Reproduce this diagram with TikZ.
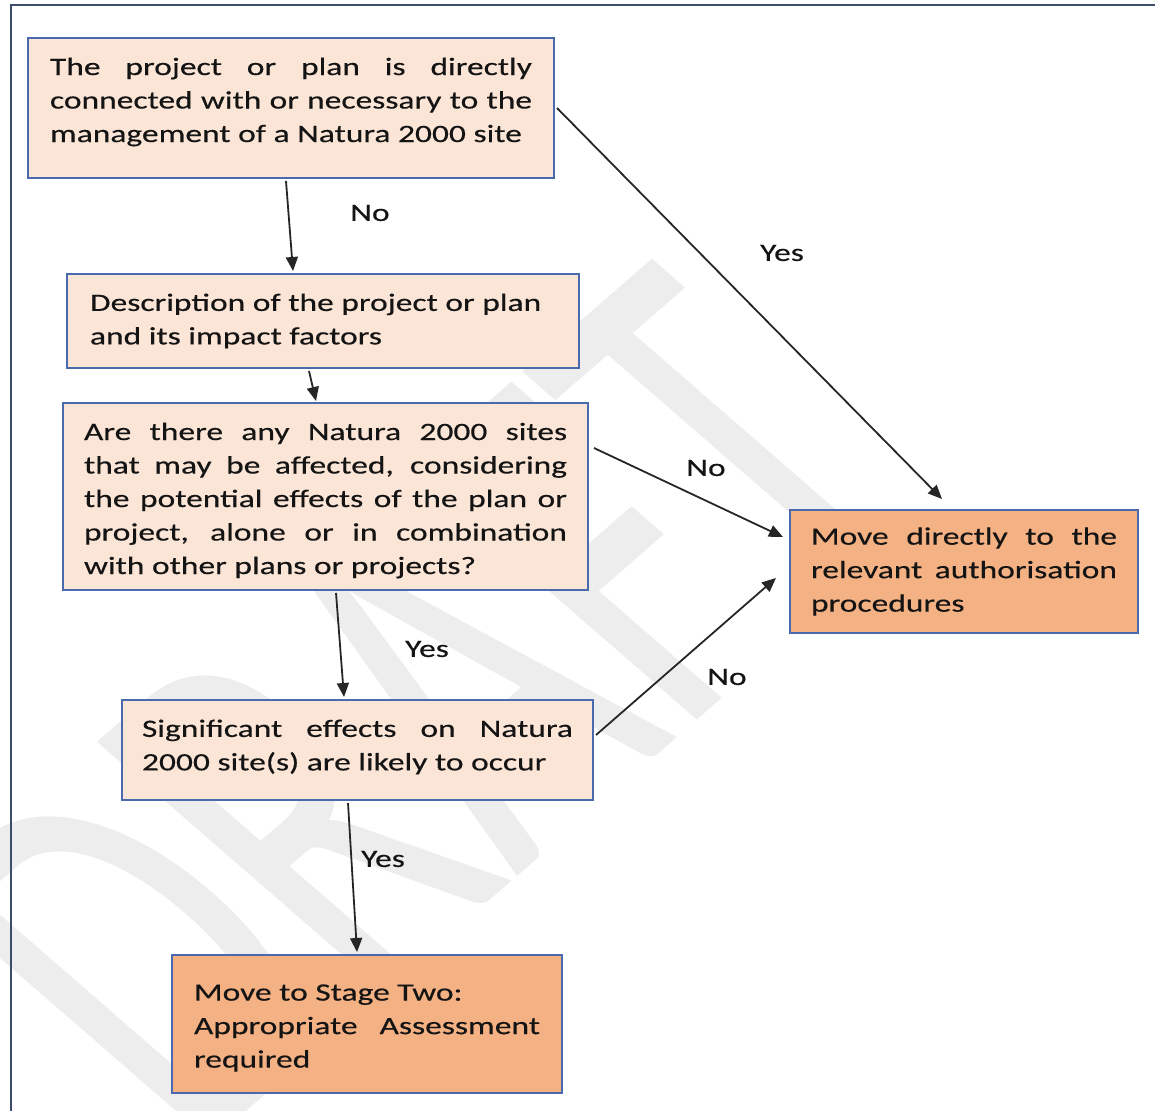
\documentclass[tikz,border=0pt]{standalone}
\usepackage{fontspec}
\setmainfont{Carlito}[FakeStretch=1.34,FakeBold=0.35]
\newfontfamily\markfont{Carlito}
\usetikzlibrary{arrows.meta,calc}
\definecolor{boxlight}{HTML}{FBE5D6}
\definecolor{boxdark}{HTML}{F4B183}
\definecolor{boxline}{HTML}{4A6AAE}
\definecolor{frameline}{HTML}{3E4C6B}
\definecolor{markgray}{HTML}{EDEDED}
\tikzset{
  flowbox/.style={draw=boxline, line width=1pt, inner xsep=0pt, inner ysep=3pt,
    align=justify, font=\fontsize{12.5}{16.75}\selectfont, text=black!92},
  lightbox/.style={flowbox, fill=boxlight},
  darkbox/.style={flowbox, fill=boxdark},
  flowarrow/.style={draw=black!85, line width=0.9pt, -{Triangle[length=7pt,width=6pt]}},
  answer/.style={font=\fontsize{12.5}{15}\selectfont, text=black!92, inner sep=0pt}
}
\begin{document}
\begin{tikzpicture}[x=0.5pt,y=-0.5pt]
\useasboundingbox (0,0) rectangle (1155,1111);
\begin{scope}
\clip (0,0) rectangle (1155,1111);
% faint diagonal watermark with tall letters
\begin{scope}[shift={(192,1159)}, xscale=1.15, rotate=45, yscale=1.6]
\node[text=markgray, transform shape, anchor=base west, inner sep=0pt] (mark) at (0,0)
  {\markfont\fontsize{172}{172}\selectfont DRAFT};
\end{scope}
% outer frame
\draw[frameline, line width=1.2pt] (11,5) rectangle (1175,1130);
\end{scope}

% boxes
\node[lightbox, minimum width=263pt, minimum height=70pt, text width=241pt] (b1) at (291,108)
  {The project or plan is directly\linebreak connected with or necessary to the\linebreak management of a Natura 2000 site\par\vspace{6pt}};
\node[lightbox, minimum width=256pt, minimum height=47pt, text width=233pt] (b2) at (323,321)
  {Description of the project or plan\\ and its impact factors};
\node[lightbox, minimum width=262.5pt, minimum height=93.5pt, text width=241.5pt] (b3) at (325.5,496.5)
  {Are there any Natura 2000 sites\linebreak that may be affected, considering\linebreak the potential effects of the plan or\linebreak project, alone or in combination\linebreak with other plans or projects?\par\vspace{-4pt}};
\node[lightbox, minimum width=235.5pt, minimum height=50pt, text width=215.5pt] (b4) at (357.5,750)
  {Significant effects on Natura\linebreak 2000 site(s) are likely to occur\par\vspace{3pt}};
\node[darkbox, minimum width=174pt, minimum height=61.5pt, text width=153pt] (b5) at (964,571.5)
  {Move directly to the\linebreak relevant authorisation\linebreak procedures};
\node[darkbox, minimum width=195pt, minimum height=69pt, text width=173pt] (b6) at (367,1024)
  {Move to Stage Two:\\ Appropriate Assessment\linebreak required\par\vspace{-4pt}};

% connectors
\draw[flowarrow] ($(b1.south)+(-5,2)$) -- ($(b2.north)+(-30,-2)$);
\draw[flowarrow] ($(b2.south)+(-14,2)$) -- ($(b3.north)+(-9.5,-1)$);
\draw[flowarrow] ($(b3.south)+(10.5,2)$) -- ($(b4.north)+(-13.5,-2)$);
\draw[flowarrow] ($(b4.south)+(-9.5,2)$) -- ($(b6.north)+(-10,-2)$);
\draw[flowarrow] ($(b1.east)+(2,0)$) -- ($(b5.north)+(-22,-10)$);
\draw[flowarrow] ($(b3.east)+(5,-48.5)$) -- ($(b5.west)+(-6,-34.5)$);
\draw[flowarrow] ($(b4.east)+(2,-15)$) -- ($(b5.west)+(-13,6.5)$);

% answers on the connectors
\node[answer] (l1) at (370,213) {No};
\node[answer] (l2) at (782,253) {Yes};
\node[answer] (l3) at (706,468) {No};
\node[answer] (l4) at (427,649) {Yes};
\node[answer] (l5) at (727,677) {No};
\node[answer] (l6) at (383,859) {Yes};
\end{tikzpicture}
\end{document}
